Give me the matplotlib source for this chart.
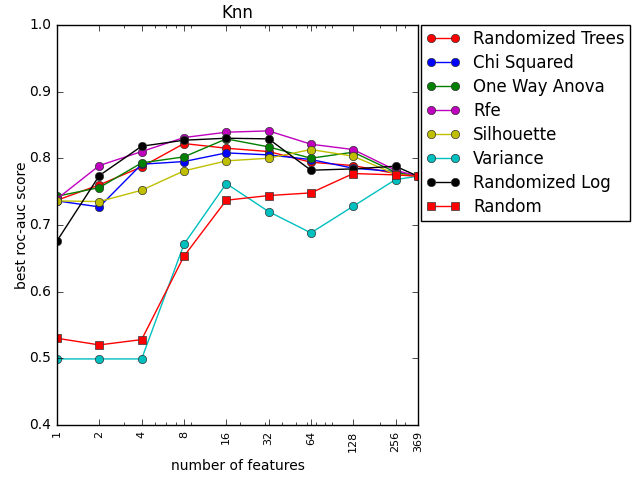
import matplotlib
matplotlib.use('Agg')
import matplotlib.pyplot as plt
from matplotlib.ticker import NullFormatter

plt.style.use('classic')

# number of selected features
n_features = [1, 2, 4, 8, 16, 32, 64, 128, 256, 369]

# best roc-auc score per selection method
randomized_trees = [0.737, 0.760, 0.787, 0.822, 0.815, 0.810, 0.794, 0.789, 0.777, 0.773]
chi_squared = [0.736, 0.727, 0.791, 0.795, 0.808, 0.805, 0.798, 0.785, 0.780, 0.773]
one_way_anova = [0.743, 0.756, 0.793, 0.802, 0.829, 0.817, 0.800, 0.809, 0.779, 0.773]
rfe = [0.739, 0.789, 0.810, 0.831, 0.839, 0.841, 0.821, 0.813, 0.782, 0.773]
silhouette = [0.736, 0.735, 0.752, 0.781, 0.796, 0.800, 0.813, 0.803, 0.776, 0.773]
variance = [0.499, 0.499, 0.499, 0.671, 0.762, 0.720, 0.688, 0.728, 0.768, 0.773]
randomized_log = [0.676, 0.774, 0.818, 0.827, 0.830, 0.829, 0.782, 0.784, 0.788, 0.773]
random_sel = [0.530, 0.520, 0.528, 0.653, 0.737, 0.744, 0.748, 0.777, 0.775, 0.773]

series = [
    ('Randomized Trees', randomized_trees, 'r', 'o'),
    ('Chi Squared', chi_squared, 'b', 'o'),
    ('One Way Anova', one_way_anova, 'g', 'o'),
    ('Rfe', rfe, 'm', 'o'),
    ('Silhouette', silhouette, 'y', 'o'),
    ('Variance', variance, 'c', 'o'),
    ('Randomized Log', randomized_log, 'k', 'o'),
    ('Random', random_sel, 'r', 's'),
]

fig = plt.figure(figsize=(6.37, 4.78), dpi=100, facecolor='white')
ax = fig.add_axes([0.0895, 0.111, 0.5665, 0.837])

for name, vals, col, mk in series:
    ax.plot(n_features, vals, color=col, marker=mk, markersize=6,
            markeredgecolor='#333333', markeredgewidth=0.5, label=name)

ax.set_xscale('log')
ax.set_xlim(1, 369)
ax.set_xticks(n_features)
ax.set_xticklabels([str(n) for n in n_features], rotation=90, fontsize=8)
ax.xaxis.set_minor_formatter(NullFormatter())
ax.set_ylim(0.4, 1.0)
ax.tick_params(axis='y', labelsize=10)

ax.set_title('Knn', fontsize=12)
ax.set_xlabel('number of features', fontsize=10)
ax.set_ylabel('best roc-auc score', fontsize=10, labelpad=0)

ax.legend(loc='upper left', bbox_to_anchor=(1.01, 1.0), numpoints=2,
          fontsize=12, borderaxespad=0.0, labelspacing=0.36, borderpad=0.3)

fig.savefig('out.png', dpi=100, facecolor='white')
